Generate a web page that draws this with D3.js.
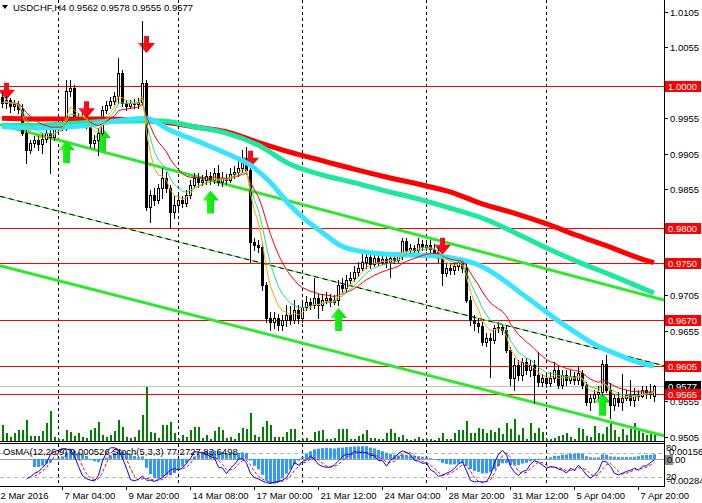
<!DOCTYPE html>
<html>
<head>
<meta charset="utf-8">
<script src="https://cdnjs.cloudflare.com/ajax/libs/d3/7.8.5/d3.min.js"></script>
<style>
  body { margin: 0; background: #fff; }
  svg { display: block; }
  text { font-family: "Liberation Sans", Arial, sans-serif; font-size: 9.5px; fill: #000; }
</style>
</head>
<body>
<svg width="702" height="503"></svg>
<script>
// USDCHF H4, prices in pips (x 0.0001)
var opens = [9985,9977,9981,9972,9975,9968,9934,9910,9920,9924, 9919,9926,9934,9928,9941,9943,9945,9993,9998,9957,
  9950,9955,9945,9920,9924,9934,9967,9974,9979,9986, 10019,9977,9972,9977,9975,9978,10005,9830,9847,9840,
  9856,9871,9856,9823,9832,9840,9835,9847,9861,9871, 9865,9868,9873,9868,9878,9865,9871,9868,9876,9879,
  9885,9892,9882,9780,9776,9773,9719,9673,9667,9673, 9663,9670,9677,9670,9684,9673,9688,9695,9691,9701,
  9691,9698,9701,9695,9698,9719,9715,9727,9729,9738, 9743,9752,9759,9749,9758,9752,9756,9752,9758,9755,
  9760,9782,9769,9772,9769,9777,9773,9776,9770,9766, 9758,9736,9743,9741,9746,9752,9743,9698,9670,9666,
  9662,9639,9645,9642,9659,9660,9656,9628,9588,9606, 9592,9611,9599,9606,9592,9582,9588,9581,9588,9599,
  9578,9592,9585,9591,9585,9595,9578,9554,9560,9566, 9568,9608,9571,9550,9560,9554,9560,9564,9557,9566,
  9563,9571,9566,9562];
var highs = [9992,9986,9984,9981,9979,9975,9938,9924,9930,9930, 9934,9941,9943,9947,9948,9953,10009,10009,10002,9962,
  9962,9960,9950,9931,9941,9972,9979,9985,9992,10040, 10023,9981,9981,9982,9984,10092,10009,9853,9856,9862,
  9885,9879,9861,9845,9847,9845,9853,9868,9878,9878, 9875,9882,9879,9885,9889,9879,9876,9885,9888,9896,
  9910,9914,9888,9786,9783,9777,9724,9681,9681,9679, 9677,9691,9690,9698,9691,9698,9704,9701,9729,9707,
  9707,9710,9707,9705,9727,9729,9734,9738,9746,9752, 9763,9766,9763,9765,9762,9760,9760,9763,9762,9766,
  9786,9786,9777,9776,9786,9783,9783,9783,9777,9773, 9762,9749,9751,9752,9758,9758,9752,9704,9677,9673,
  9667,9652,9652,9663,9667,9664,9662,9632,9616,9614, 9616,9616,9614,9614,9625,9594,9594,9597,9611,9605,
  9599,9599,9599,9597,9605,9599,9582,9566,9571,9577, 9614,9621,9581,9566,9568,9594,9571,9585,9574,9571,
  9577,9577,9580,9578];
var lows = [9971,9969,9964,9967,9962,9931,9892,9906,9914,9910, 9906,9921,9878,9924,9937,9938,9938,9986,9953,9944,
  9945,9941,9914,9913,9903,9931,9962,9969,9975,9977, 9972,9967,9969,9969,9969,9975,9826,9808,9832,9835,
  9842,9851,9800,9814,9826,9830,9831,9842,9856,9858, 9861,9862,9862,9863,9861,9859,9862,9865,9871,9873,
  9879,9876,9752,9769,9766,9712,9667,9656,9659,9656, 9656,9662,9664,9666,9666,9667,9684,9686,9687,9673,
  9684,9694,9690,9693,9691,9710,9710,9722,9725,9732, 9741,9743,9743,9746,9748,9749,9745,9731,9751,9752,
  9756,9765,9766,9765,9766,9769,9769,9765,9760,9752, 9719,9732,9735,9735,9741,9738,9695,9663,9656,9653,
  9635,9633,9590,9638,9653,9650,9625,9578,9571,9585, 9585,9594,9591,9553,9577,9577,9575,9577,9582,9574,
  9574,9578,9581,9580,9580,9574,9550,9543,9554,9560, 9564,9568,9532,9543,9549,9543,9557,9550,9549,9557,
  9561,9560,9560,9555];
var closes = [9977,9981,9972,9975,9968,9934,9910,9920,9924,9919, 9926,9934,9928,9941,9943,9945,9993,9998,9957,9950,
  9955,9945,9920,9924,9934,9967,9974,9979,9986,10019, 9977,9972,9977,9975,9978,10005,9830,9847,9840,9856,
  9871,9856,9823,9832,9840,9835,9847,9861,9871,9865, 9868,9873,9868,9878,9865,9871,9868,9876,9879,9885,
  9892,9882,9780,9776,9773,9719,9673,9667,9673,9663, 9670,9677,9670,9684,9673,9688,9695,9691,9701,9691,
  9698,9701,9695,9698,9719,9715,9727,9729,9738,9743, 9752,9759,9749,9758,9752,9756,9752,9758,9755,9760,
  9782,9769,9772,9769,9777,9773,9776,9770,9766,9758, 9736,9743,9741,9746,9752,9743,9698,9670,9666,9662,
  9639,9645,9642,9659,9660,9656,9628,9588,9606,9592, 9611,9599,9606,9592,9582,9588,9581,9588,9599,9578,
  9592,9585,9591,9585,9595,9578,9554,9560,9566,9568, 9608,9571,9550,9560,9554,9560,9564,9557,9566,9563,
  9571,9566,9568,9577];
var tickVolume = [1600,800,400,800,1100,1100,2100,500,500,500, 1000,1800,3000,400,200,200,1100,900,500,800,
  400,300,1100,1300,1900,600,400,600,1000,2100, 1400,400,300,400,1100,2600,5500,900,800,300,
  1600,1600,1900,800,200,600,400,1100,1400,1400, 300,600,200,1000,1400,1100,300,400,200,800,
  1300,1200,2800,600,400,1400,2000,1600,400,400, 400,900,1200,1200,100,200,300,100,900,1000,
  1100,200,200,300,1200,1200,1200,200,200,500, 700,1100,300,300,200,200,800,1200,800,400,
  600,200,100,200,400,200,200,200,100,300, 800,200,200,800,1100,1100,2000,800,800,1300,
  1200,800,1100,900,1300,700,1800,1200,2200,600, 1300,200,1800,800,1300,900,200,200,300,500,
  600,800,400,200,1300,1200,500,400,1500,800, 700,1400,1800,1100,400,1200,600,1200,1800,1100,
  800,600,700,700];

// long moving averages, read every few bars
var maBars = [0,8,16,24,32,40,48,56,64,72,80,88,96,104,112,120,128,136,144,152,160,163];
var maRed = [9955,9954,9954,9954,9953,9950,9943,9936,9921,9907,9895,9883,9872,9862,9851,9834,9821,9806,9789,9773,9756,9751];
var maSpring = [9945,9945,9947,9950,9951,9951,9943,9934,9917,9890,9875,9864,9852,9841,9828,9814,9794,9772,9752,9734,9715,9708];
var maCyanBars = [0,10,20,27,36,42,50,57,62,67,72,76,80,85,92,100,107,114,119,124,129,134,139,144,149,154,159,163];
var maCyan = [9943,9941,9944,9950,9955,9938,9920,9903,9889,9865,9832,9811,9794,9774,9765,9762,9761,9756,9748,9732,9711,9690,9669,9650,9633,9621,9610,9605];

// trend channel (price at bar 0 and bar 163)
var trendBars = [0, 163];
var trendUpper = [9945, 9702];
var trendMid = [9844, 9609];
var trendLower = [9746, 9510];

var levels = [10000, 9800, 9750, 9670, 9605, 9565];
var bid = 9577;
var priceTicks = [9505,9555,9605,9655,9705,9755,9805,9855,9905,9955,10005,10055,10105];

var sellBars = [1, 21, 36, 62, 110];
var sellTips = [9981, 9955, 10047, 9885, 9762];
var buyBars = [16, 25, 52, 84, 150];
var buyTips = [9924, 9941, 9853, 9687, 9567];

var timeLabels = ["2 Mar 2016","7 Mar 04:00","9 Mar 20:00","14 Mar 08:00","17 Mar 00:00","21 Mar 12:00",
  "24 Mar 04:00","28 Mar 20:00","31 Mar 12:00","5 Apr 04:00","7 Apr 20:00"];
var timeLabelBars = [-1,15,31,47,63,79,95,111,127,143,159];
var weekStartBars = [14,44,75,106,136];

var plotR = 664, mainB = 441, oscT = 443, oscB = 486;
var N = closes.length;
var svg = d3.select("svg");

var x = d3.scaleLinear().domain([0, N - 1]).range([2, 2 + 4 * (N - 1)]);
var y = d3.scaleLinear().domain([0.9499, 1.0122]).range([mainB, 0]);
var pip = function(v) { return v / 10000; };
var yp = function(v) { return y(pip(v)); };

var bars = closes.map(function(c, i) {
  return {i: i, o: opens[i], h: highs[i], l: lows[i], c: c, v: tickVolume[i]};
});

// indicators
function ema(arr, n) {
  var k = 2 / (n + 1), out = [], prev = arr[0];
  arr.forEach(function(v, i) { prev = i ? prev + k * (v - prev) : v; out.push(prev); });
  return out;
}
function sma(arr, n) {
  return arr.map(function(v, i) {
    if (i < n - 1 || arr[i - n + 1] == null) return null;
    return d3.mean(arr.slice(i - n + 1, i + 1));
  });
}
var cl = closes.map(pip);
var ema12 = ema(cl, 12), ema26 = ema(cl, 26);
var macd = cl.map(function(v, i) { return ema12[i] - ema26[i]; });
var signal = sma(macd, 9);
var osma = macd.map(function(v, i) { return signal[i] == null ? null : v - signal[i]; });

var stochK = closes.map(function(c, i) {
  if (i < 6) return null;
  var num = 0, den = 0;
  for (var j = i - 2; j <= i; j++) {
    var hh = d3.max(highs.slice(j - 4, j + 1)), ll = d3.min(lows.slice(j - 4, j + 1));
    num += closes[j] - ll; den += hh - ll;
  }
  return den ? 100 * num / den : 50;
});
var stochD = sma(stochK, 3);

var defs = svg.append("defs");
defs.append("clipPath").attr("id", "clipMain").append("rect")
  .attr("x", 0).attr("y", 0).attr("width", plotR).attr("height", mainB);
defs.append("clipPath").attr("id", "clipOsc").append("rect")
  .attr("x", 0).attr("y", oscT + 1).attr("width", plotR).attr("height", oscB - oscT - 1);
var sg = defs.append("linearGradient").attr("id", "sellGrad").attr("x1", 0).attr("y1", 0).attr("x2", 1).attr("y2", 0);
sg.append("stop").attr("offset", "0%").attr("stop-color", "#ff1f6e");
sg.append("stop").attr("offset", "45%").attr("stop-color", "#ff0a1a");
sg.append("stop").attr("offset", "100%").attr("stop-color", "#ff0000");
var bg = defs.append("linearGradient").attr("id", "buyGrad").attr("x1", 0).attr("y1", 0).attr("x2", 1).attr("y2", 0);
bg.append("stop").attr("offset", "0%").attr("stop-color", "#8cff5a");
bg.append("stop").attr("offset", "40%").attr("stop-color", "#14f014");
bg.append("stop").attr("offset", "100%").attr("stop-color", "#10d810");

// week separators
svg.append("g").selectAll("line").data(weekStartBars).enter().append("line")
  .attr("x1", function(d) { return Math.round(x(d)) + 0.5; })
  .attr("x2", function(d) { return Math.round(x(d)) + 0.5; })
  .attr("y1", 0).attr("y2", oscB)
  .attr("stroke", "#000").attr("stroke-dasharray", "3,3");

var main = svg.append("g").attr("clip-path", "url(#clipMain)");

// tick volume
var vScale = d3.scaleLinear().domain([0, 5500]).range([0, 55]);
main.append("g").selectAll("rect").data(bars).enter().append("rect")
  .attr("x", function(d) { return Math.round(x(d.i)); })
  .attr("width", 2)
  .attr("y", function(d) { return mainB - Math.round(vScale(d.v)); })
  .attr("height", function(d) { return Math.round(vScale(d.v)); })
  .attr("fill", "#008000");

// bid and levels
main.append("line").attr("x1", 0).attr("x2", plotR)
  .attr("y1", Math.round(yp(bid)) + 0.5).attr("y2", Math.round(yp(bid)) + 0.5)
  .attr("stroke", "#c0c0c0");
main.append("g").selectAll("line").data(levels).enter().append("line")
  .attr("x1", 0).attr("x2", plotR)
  .attr("y1", function(d) { return Math.round(yp(d)) + 0.5; })
  .attr("y2", function(d) { return Math.round(yp(d)) + 0.5; })
  .attr("stroke", "#ff0000");

// trend channel
function trendPath(vals) {
  var t = d3.scaleLinear().domain(trendBars).range(vals);
  var i0 = x.invert(0), i1 = x.invert(plotR);
  return [[0, yp(t(i0))], [plotR, yp(t(i1))]];
}
var straight = d3.line();
main.append("path").attr("d", straight(trendPath(trendUpper)))
  .attr("stroke", "#2ee82e").attr("stroke-width", 3).attr("fill", "none");
main.append("path").attr("d", straight(trendPath(trendLower)))
  .attr("stroke", "#2ee82e").attr("stroke-width", 3).attr("fill", "none");
main.append("path").attr("d", straight(trendPath(trendMid)))
  .attr("stroke", "#2ee82e").attr("stroke-width", 1).attr("fill", "none");
main.append("path").attr("d", straight(trendPath(trendMid)))
  .attr("stroke", "#000").attr("stroke-width", 1).attr("stroke-dasharray", "5,4").attr("fill", "none");

// signal arrows (under the candles, as in the terminal)
var downArrow = "M-2.5,-17H2.5V-10H8.5L0,0L-8.5,-10H-2.5Z";
var upArrow = "M-3.5,23H3.5V10H8.5L0,0L-8.5,10H-3.5Z";
main.append("g").selectAll("path").data(sellBars).enter().append("path")
  .attr("d", downArrow)
  .attr("transform", function(d, k) { return "translate(" + (x(d) + 0.5) + "," + yp(sellTips[k]) + ")"; })
  .attr("fill", "url(#sellGrad)");
main.append("g").selectAll("path").data(buyBars).enter().append("path")
  .attr("d", upArrow)
  .attr("transform", function(d, k) { return "translate(" + (x(d) + 0.5) + "," + yp(buyTips[k]) + ")"; })
  .attr("fill", "url(#buyGrad)");

// candles
var cg = main.append("g").attr("shape-rendering", "crispEdges");
cg.selectAll("line").data(bars).enter().append("line")
  .attr("x1", function(d) { return Math.round(x(d.i)) + 0.5; })
  .attr("x2", function(d) { return Math.round(x(d.i)) + 0.5; })
  .attr("y1", function(d) { return Math.round(yp(d.h)); })
  .attr("y2", function(d) { return Math.round(yp(d.l)) + 1; })
  .attr("stroke", "#000");
cg.selectAll("rect").data(bars).enter().append("rect")
  .each(function(d) {
    var cx = Math.round(x(d.i));
    var top = Math.round(yp(Math.max(d.o, d.c))), bot = Math.round(yp(Math.min(d.o, d.c)));
    var r = d3.select(this);
    if (d.c >= d.o) {
      r.attr("x", cx - 0.5).attr("y", top + 0.5).attr("width", 2).attr("height", Math.max(0, bot - top))
        .attr("fill", "#fff").attr("stroke", "#000");
    } else {
      r.attr("x", cx - 1).attr("y", top).attr("width", 3).attr("height", Math.max(1, bot - top + 1))
        .attr("fill", "#000");
    }
  });

// moving averages
var curve = d3.line().curve(d3.curveMonotoneX);
function sampled(idx, vals) { return idx.map(function(b, k) { return [x(b), yp(vals[k])]; }); }
main.append("path").attr("d", curve(sampled(maBars, maRed)))
  .attr("stroke", "#ff0000").attr("stroke-width", 5).attr("fill", "none");
main.append("path").attr("d", curve(sampled(maBars, maSpring)))
  .attr("stroke", "#1fe89e").attr("stroke-width", 5).attr("fill", "none");
main.append("path").attr("d", curve(sampled(maCyanBars, maCyan)))
  .attr("stroke", "#38e4ff").attr("stroke-width", 5).attr("fill", "none");

var thin = d3.line().x(function(d, i) { return x(i) + 0.5; }).y(function(d) { return y(d); });
[[15, "#ff0000"], [8, "#22dd88"], [5, "#ffa000"]].forEach(function(m) {
  main.append("path").attr("d", thin(ema(cl, m[0])))
    .attr("stroke", m[1]).attr("stroke-width", 1).attr("fill", "none");
});

// oscillator window
var yO = d3.scaleLinear().domain([-0.00284, 0.00156]).range([oscB, oscT + 1]);
var yS = d3.scaleLinear().domain([0, 100]).range([oscB - 1, oscT + 2]);
var osc = svg.append("g").attr("clip-path", "url(#clipOsc)");
[80, 20].forEach(function(lv) {
  osc.append("line").attr("x1", 0).attr("x2", plotR)
    .attr("y1", Math.round(yS(lv)) + 0.5).attr("y2", Math.round(yS(lv)) + 0.5)
    .attr("stroke", "#b4b4b4").attr("stroke-dasharray", "4,3");
});
osc.append("line").attr("x1", 0).attr("x2", plotR)
  .attr("y1", Math.round(yO(0)) + 0.5).attr("y2", Math.round(yO(0)) + 0.5)
  .attr("stroke", "#a0a0a0");
osc.append("g").selectAll("rect").data(osma.map(function(v, i) { return {i: i, v: v}; })
    .filter(function(d) { return d.v != null; }))
  .enter().append("rect")
  .attr("x", function(d) { return Math.round(x(d.i)) - 1; })
  .attr("width", 3)
  .attr("y", function(d) { return Math.min(yO(0), yO(d.v)); })
  .attr("height", function(d) { return Math.abs(yO(d.v) - yO(0)); })
  .attr("fill", "#3399ff");
var sLine = d3.line().defined(function(d) { return d != null; })
  .x(function(d, i) { return x(i) + 0.5; }).y(function(d) { return yS(d); });
osc.append("path").attr("d", sLine(stochD))
  .attr("stroke", "#ff0000").attr("stroke-dasharray", "3,2").attr("fill", "none");
osc.append("path").attr("d", sLine(stochK))
  .attr("stroke", "#0000ff").attr("fill", "none");

svg.append("text").attr("x", 3).attr("y", 455).text("OsMA(12,26,9) 0.000526");
svg.append("text").attr("x", 112).attr("y", 455).text("Stoch(5,3,3) 77.2727 83.6498");

// frame
svg.append("line").attr("x1", 0).attr("x2", plotR).attr("y1", mainB + 0.5).attr("y2", mainB + 0.5).attr("stroke", "#000");
svg.append("line").attr("x1", 0).attr("x2", plotR).attr("y1", oscT + 0.5).attr("y2", oscT + 0.5).attr("stroke", "#000");
svg.append("line").attr("x1", 0).attr("x2", plotR + 1).attr("y1", oscB + 0.5).attr("y2", oscB + 0.5).attr("stroke", "#000");
svg.append("line").attr("x1", plotR + 0.5).attr("x2", plotR + 0.5).attr("y1", 0).attr("y2", oscB).attr("stroke", "#000");

// price axis; labels that sit right under a level box are covered there
var pa = svg.append("g");
priceTicks.forEach(function(p) {
  var yy = Math.round(yp(p)) + 0.5;
  pa.append("line").attr("x1", plotR).attr("x2", plotR + 4).attr("y1", yy).attr("y2", yy).attr("stroke", "#000");
  var covered = levels.some(function(lv) { return Math.abs(yp(lv) - yp(p)) < 4; });
  if (!covered) pa.append("text").attr("x", plotR + 6).attr("y", yy + 3.5).text(d3.format(".4f")(pip(p)));
});
function priceBox(p, fill) {
  var yy = Math.round(yp(p));
  pa.append("rect").attr("x", plotR + 1).attr("y", yy - 5).attr("width", 36).attr("height", 11).attr("fill", fill);
  pa.append("text").attr("x", plotR + 4).attr("y", yy + 4).style("fill", "#fff").text(d3.format(".4f")(pip(p)));
}
priceBox(bid, "#000");
levels.forEach(function(lv) { priceBox(lv, "#ff0000"); });

// oscillator axis
var oa = svg.append("g").style("font-size", "8.5px");
oa.append("text").attr("x", 666).attr("y", 451).text("80");
oa.append("text").attr("x", 669).attr("y", 455).text("0.00156");
oa.append("rect").attr("x", 665).attr("y", 455).attr("width", 8).attr("height", 10).attr("fill", "#8c8c8c");
oa.append("text").attr("x", 667).attr("y", 463).text("0.00");
oa.append("text").attr("x", 666).attr("y", 480).text("20");
oa.append("text").attr("x", 667).attr("y", 484).text("-0.00284");

// time axis
var ta = svg.append("g");
timeLabelBars.forEach(function(b, k) {
  var xx = Math.round(x(b)) + 0.5;
  ta.append("line").attr("x1", xx).attr("x2", xx).attr("y1", oscB).attr("y2", oscB + 4).attr("stroke", "#000");
  ta.append("text").attr("x", xx + 2).attr("y", 499).text(timeLabels[k]);
});

// title
svg.append("path").attr("d", "M2,5L8,5L5,9Z").attr("fill", "#000");
svg.append("text").attr("x", 13).attr("y", 11)
  .text("USDCHF,H4  " + [opens[N - 1], highs[N - 1], lows[N - 1], closes[N - 1]].map(function(v) { return d3.format(".4f")(pip(v)); }).join(" "));
</script>
</body>
</html>
